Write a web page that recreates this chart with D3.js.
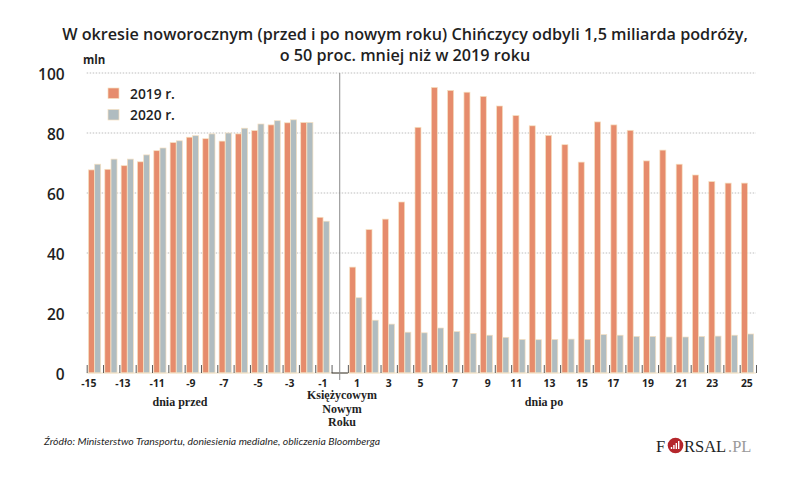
<!DOCTYPE html>
<html>
<head>
<meta charset="utf-8">
<script src="https://cdnjs.cloudflare.com/ajax/libs/d3/7.8.5/d3.min.js"></script>
<style>
html, body { margin: 0; padding: 0; background: #fff; }
text { font-family: "Open Sans", sans-serif; fill: #1f1f1f; }
.serif { font-family: "Liberation Serif", serif; font-weight: 700; font-size: 12px; }
.logo { font-family: "Liberation Serif", serif; font-size: 16.5px; }
</style>
</head>
<body>
<div id="chart"></div>
<script>
// values, in millions of trips
var daysBefore = [-15, -14, -13, -12, -11, -10, -9, -8, -7, -6, -5, -4, -3, -2, -1];
var daysAfter = [1, 2, 3, 4, 5, 6, 7, 8, 9, 10, 11, 12, 13, 14, 15, 16, 17, 18, 19, 20, 21, 22, 23, 24, 25];
var before2019 = [67.7, 67.9, 69.1, 70.4, 74.1, 76.8, 78.6, 78.1, 77.3, 79.7, 80.8, 82.7, 83.4, 83.5, 51.9];
var before2020 = [69.6, 71.3, 71.3, 72.7, 75, 77.4, 79.1, 79.7, 80, 81.6, 83, 84.1, 84.4, 83.5, 50.6];
var after2019 = [35.3, 47.8, 51.3, 57, 81.9, 95.2, 94.2, 93.6, 92.2, 89, 85.8, 82.4, 79.2, 76.1, 70.3, 83.7, 82.7, 80.9, 70.7, 74.3, 69.6, 66, 63.8, 63.3, 63.3];
var after2020 = [25.1, 17.6, 16.3, 13.6, 13.4, 15, 13.8, 13.2, 12.6, 11.9, 11.2, 11.1, 11.2, 11.3, 11.2, 12.8, 12.6, 12.2, 12.2, 12, 12, 12.2, 12.3, 12.6, 13];
var yTicks = [0, 20, 40, 60, 80, 100];
var labelledDays = [-15, -13, -11, -9, -7, -5, -3, -1, 1, 3, 5, 7, 9, 11, 13, 15, 17, 19, 21, 23, 25];
var seriesNames = ["2019 r.", "2020 r."];
var seriesColors = ["#e68c6c", "#b0bcc0"];
var titleLines = [
	"W okresie noworocznym (przed i po nowym roku) Chińczycy odbyli 1,5 miliarda podróży,",
	"o 50 proc. mniej niż w 2019 roku"
];
var holidayLines = ["Księżycowym", "Nowym", "Roku"];

var svgWidth = 788;
var svgHeight = 488;

var margin = { top: 73, left: 86.7, right: 32, bottom: 115 };
var width = svgWidth - margin.left - margin.right;
var height = svgHeight - margin.top - margin.bottom;

var svg = d3.select("#chart")
	.append("svg")
	.attr("width", svgWidth)
	.attr("height", svgHeight)
	.style("display", "block");

// title

svg.selectAll(".title")
	.data(titleLines)
	.enter()
	.append("text")
	.attr("class", "title")
	.attr("x", 405)
	.attr("y", (d, i) => 39.5 + i * 21.5)
	.attr("text-anchor", "middle")
	.style("font-size", "16.2px")
	.style("font-weight", 600)
	.text(d => d);

var chartGroup = svg.append("g")
	.attr("transform", `translate(${margin.left}, ${margin.top})`);

// scales: one empty slot (day 0) sits between the two blocks of days

var allDays = daysBefore.concat([0], daysAfter);

var xBand = d3.scaleBand()
	.domain(allDays)
	.range([0, width]);

var yLinearScale = d3.scaleLinear()
	.domain([0, 100])
	.range([height, 0]);

var slot = xBand.step();

// dotted grid

chartGroup.selectAll(".grid")
	.data(yTicks.filter(d => d > 0))
	.enter()
	.append("line")
	.attr("x1", 0)
	.attr("x2", width)
	.attr("y1", d => yLinearScale(d))
	.attr("y2", d => yLinearScale(d))
	.attr("stroke", "#bdbdbd")
	.attr("stroke-width", 1)
	.attr("stroke-dasharray", "1.5 1.5");

// y axis labels

var leftAxis = d3.axisLeft(yLinearScale).tickValues(yTicks).tickSize(0).tickPadding(22);

var yAxis = chartGroup.append("g").call(leftAxis);
yAxis.select(".domain").remove();
yAxis.selectAll("text")
	.attr("dy", "0.45em")
	.style("font-size", "15.5px")
	.style("font-weight", 600);

svg.append("text")
	.attr("x", 83)
	.attr("y", 64)
	.style("font-size", "11.5px")
	.style("font-weight", 700)
	.text("mln");

// bars

function drawBars(days, values, color, offset) {
	chartGroup.selectAll(null)
		.data(days)
		.enter()
		.append("rect")
		.attr("x", d => xBand(d) + offset)
		.attr("y", (d, i) => yLinearScale(values[i]))
		.attr("width", 6)
		.attr("height", (d, i) => height - yLinearScale(values[i]))
		.attr("fill", color)
		.attr("stroke", "#f6e0c0")
		.attr("stroke-width", 0.7);
}

drawBars(daysBefore, before2019, seriesColors[0], 1.8);
drawBars(daysBefore, before2020, seriesColors[1], 8);
drawBars(daysAfter, after2019, seriesColors[0], 1.8);
drawBars(daysAfter, after2020, seriesColors[1], 8);

// pale baseline, ticks between days, dark bracket around the holiday

chartGroup.append("line")
	.attr("x1", 0)
	.attr("x2", width)
	.attr("y1", height)
	.attr("y2", height)
	.attr("stroke", "#f0e2c8")
	.attr("stroke-width", 1);

var xEdges = d3.scaleLinear()
	.domain([0, allDays.length])
	.range([0, width]);

var edgeAxis = d3.axisBottom(xEdges)
	.tickValues(d3.range(0, allDays.length + 1))
	.tickSize(-8)
	.tickFormat("");

var edgeGroup = chartGroup.append("g")
	.attr("transform", `translate(0, ${height})`)
	.call(edgeAxis);
edgeGroup.select(".domain").remove();
edgeGroup.selectAll("line").attr("stroke", "#333").attr("stroke-width", 0.8);

chartGroup.append("line")
	.attr("x1", xBand(0))
	.attr("x2", xBand(0) + slot)
	.attr("y1", height)
	.attr("y2", height)
	.attr("stroke", "#333")
	.attr("stroke-width", 1);

// holiday marker

chartGroup.append("line")
	.attr("x1", xBand(0) + slot / 2)
	.attr("x2", xBand(0) + slot / 2)
	.attr("y1", 0)
	.attr("y2", height + 7)
	.attr("stroke", "#8a8a8a")
	.attr("stroke-width", 1);

// day labels, hand-set in the original so they drift off the bar centres

var labelNudge = [-6, -4.6, -3, -2, -1.6, 0, -1, -0.5, 1, 0, -1, 1, 1, -3, -2.5, -2.7, -4, -2, -1, -3, -1];

var bottomAxis = d3.axisBottom(xBand).tickValues(labelledDays).tickSize(0).tickPadding(7);

var xAxis = chartGroup.append("g")
	.attr("transform", `translate(0, ${height})`)
	.call(bottomAxis);
xAxis.select(".domain").remove();
xAxis.selectAll("text")
	.attr("dx", (d, i) => labelNudge[i])
	.style("font-size", "10.4px")
	.style("font-weight", 700);

// group captions

svg.append("text")
	.attr("class", "serif")
	.attr("x", 180)
	.attr("y", 406)
	.attr("text-anchor", "middle")
	.text("dnia przed");

svg.append("text")
	.attr("class", "serif")
	.attr("x", 544)
	.attr("y", 406)
	.attr("text-anchor", "middle")
	.text("dnia po");

svg.selectAll(".holiday")
	.data(holidayLines)
	.enter()
	.append("text")
	.attr("class", "serif holiday")
	.attr("x", 342)
	.attr("y", (d, i) => 399 + i * 13.5)
	.attr("text-anchor", "middle")
	.text(d => d);

// legend

var legend = svg.selectAll(".legend")
	.data(seriesNames)
	.enter()
	.append("g")
	.attr("class", "legend")
	.attr("transform", (d, i) => `translate(108, ${88 + i * 21.5})`);

legend.append("rect")
	.attr("width", 11)
	.attr("height", 10.5)
	.attr("fill", (d, i) => seriesColors[i])
	.attr("stroke", "#f6e0c0")
	.attr("stroke-width", 0.7);

legend.append("text")
	.attr("x", 22)
	.attr("y", 10.5)
	.style("font-size", "13.8px")
	.style("font-weight", 600)
	.text(d => d);

// source

svg.append("text")
	.attr("x", 44)
	.attr("y", 445)
	.style("font-family", "Lato, sans-serif")
	.style("font-size", "10.45px")
	.style("font-style", "italic")
	.text("Źródło: Ministerstwo Transportu, doniesienia medialne, obliczenia Bloomberga");

// logo

var logo = svg.append("g").attr("transform", "translate(656, 452)");

logo.append("text")
	.attr("class", "logo")
	.text("F");

logo.append("circle")
	.attr("cx", 19.5)
	.attr("cy", -6.5)
	.attr("r", 7.8)
	.attr("fill", "#b5262b");

logo.selectAll(".logoBar")
	.data([2, 4, 6, 8])
	.enter()
	.append("rect")
	.attr("class", "logoBar")
	.attr("x", (d, i) => 14.8 + i * 2.4)
	.attr("y", d => -3 - d)
	.attr("width", 1.4)
	.attr("height", d => d)
	.attr("fill", "#fff");

logo.append("text")
	.attr("class", "logo")
	.attr("x", 28)
	.text("RSAL");

logo.append("text")
	.attr("class", "logo")
	.attr("x", 72)
	.style("fill", "#9a9a9a")
	.text(".PL");
</script>
</body>
</html>
